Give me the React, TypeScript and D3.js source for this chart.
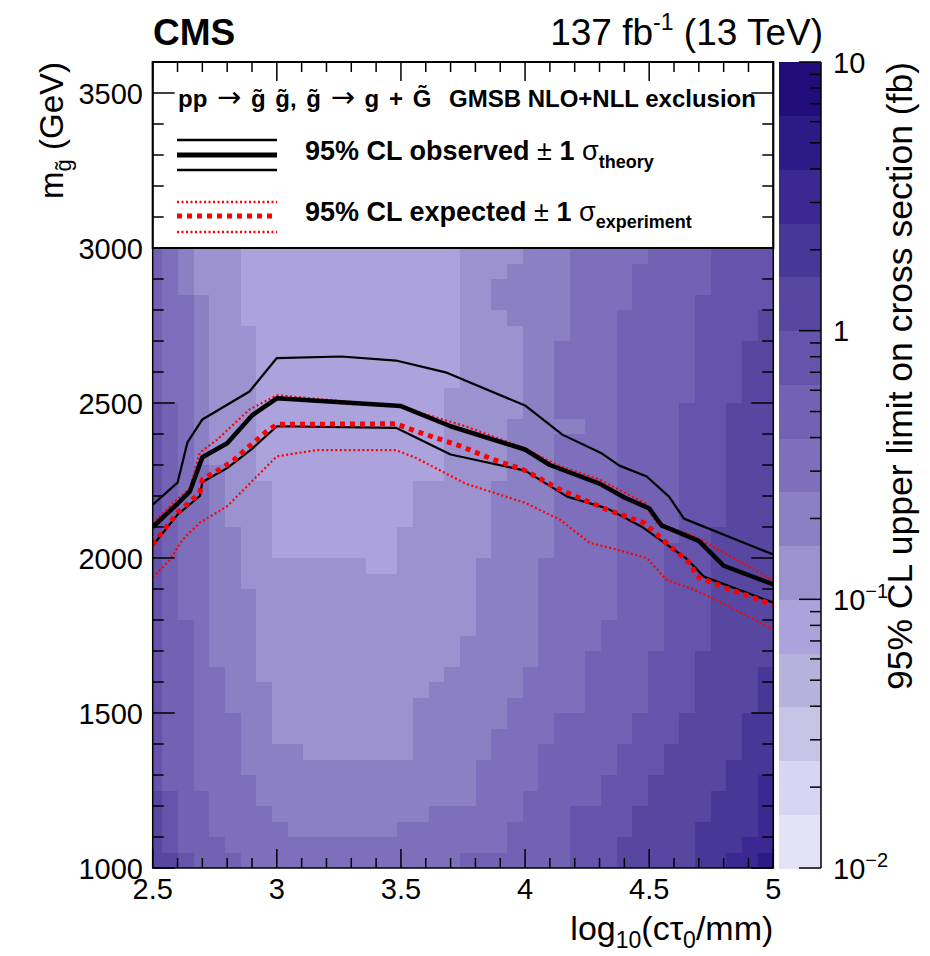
import React from "react";
import * as d3 from "d3";

const WIDTH = 930;
const HEIGHT = 956;
const FONT = "'Liberation Sans', Arial, Helvetica, sans-serif";

// ---- axes ----
const X_DOMAIN: [number, number] = [2.5, 5];
const Y_DOMAIN: [number, number] = [1000, 3600];
const Z_DOMAIN: [number, number] = [0.01, 10];
const xMajorTicks = [2.5, 3, 3.5, 4, 4.5, 5];
const xTickLabels = ["2.5", "3", "3.5", "4", "4.5", "5"];
const yMajorTicks = [1000, 1500, 2000, 2500, 3000, 3500];
const yTickLabels = ["1000", "1500", "2000", "2500", "3000", "3500"];
const zMajorTicks = [0.01, 0.1, 1, 10];
const zTickBase = ["10", "10", "1", "10"];
const zTickExp = ["\u22122", "\u22121", "", ""];

// ---- colour bands (15 bands, 5 per decade, lowest first) ----
const bandColors = [
  "#e4e3f6", "#d7d5f1", "#c6c3e6", "#b5b2dc", "#aca3dc",
  "#9d92d0", "#8c80c4", "#7d6fbb", "#7361b3", "#6653ab",
  "#5747a0", "#473897", "#3b2890", "#2c1a86", "#220e7a",
];

// ---- heat map: band index per cell, run-length coded, rows from 2950-3000 GeV down to 1000-1050 GeV ----
const heatMassLow = 1000;
const heatMassStep = 50;
const heatBinWidth = 0.0631;
const heatLevelRows = [
  "8 7 6 5*3 4*14 5*4 6*3 7*5 8*4 9*4",
  "8 7 6 5*3 4*14 5*3 6*4 7*4 8*5 9*4",
  "8 7 6 5*3 4*14 5*2 6*5 7*4 8*5 9*4",
  "8 7*2 6 5*2 4*14 5*2 6*5 7*4 8*4 9*5",
  "8 7*2 6 5*2 4*14 5*3 6*4 7*3 8*5 9*4 a",
  "8 7*2 6 5*3 4*13 5*4 6*3 7*3 8*5 9*4 a",
  "8 7*2 6 5*3 4*13 5*4 6*2 7*4 8*5 9*3 a*2",
  "8 7*2 6 5*3 4*13 5*4 6*2 7*4 8*5 9*3 a*2",
  "8 7*2 6 5*3 4*13 5*4 6*2 7*4 8*5 9*3 a*2",
  "8 7*2 6 5*3 4*12 5*5 6*2 7*4 8*5 9*3 a*2",
  "9 8 7 6 5*3 4*12 5*5 6*2 7*4 8*4 9*3 a*3",
  "9 8 7 6 5*3 4*12 5*4 6*5 7*2 8*4 9*3 a*3",
  "9 8 7 6 5*3 4*12 5*4 6*3 7*4 8*4 9*3 a*3",
  "9 8 7 6 5*3 4*12 5*4 6*3 7*4 8*4 9*3 a*3",
  "9 8 7*2 6 5*2 4*12 5*4 6*3 7*4 8*4 9*3 a*3",
  "9 8 7*2 6 5*3 4*9 5*5 6*4 7*4 8*4 9*3 a*3",
  "9 8 7*2 6 5*3 4*9 5*5 6*4 7*4 8*4 9*3 a*3",
  "9 8 7*2 6 5*3 4*9 5*5 6*4 7*4 8*4 9*3 a*3",
  "9 8 7*2 6*2 5*2 4*8 5*6 6*4 7*4 8*4 9*2 a*4",
  "9 8 7*2 6*2 5*2 4*8 5*6 6*4 7*4 8*3 9*3 a*4",
  "9 8 7*2 6*2 5*8 4*2 5*5 6*4 7*5 8*3 9*3 a*4",
  "9 8 7*2 6*2 5*15 6*4 7*5 8*3 9*3 a*4",
  "9 8 7*2 6*3 5*14 6*4 7*5 8*3 9*3 a*4",
  "9 8 7*2 6*3 5*14 6*4 7*5 8*3 9*3 a*4",
  "9 8*2 7 6*3 5*14 6*4 7*4 8*4 9*3 a*4",
  "9 8*2 7 6*3 5*13 6*5 7*4 8*4 9*3 a*4",
  "9 8*2 7 6*3 5*13 6*5 7*3 8*4 9*3 a*5",
  "9 8*2 7*2 6*2 5*12 6*5 7*4 8*4 9*3 a*4 b",
  "9 8*2 7*2 6*3 5*10 6*6 7*4 8*4 9*3 a*4 b",
  "9 8*2 7*2 6*3 5*9 6*6 7*5 8*4 9*3 a*4 b",
  "9 8*2 7*3 6*2 5*9 6*6 7*3 8*5 9*3 a*4 b*2",
  "9 8*2 7*3 6*2 5*9 6*5 7*4 8*5 9*3 a*4 b*2",
  "9 8*2 7*3 6*4 5*7 6*5 7*3 8*5 9*3 a*5 b*2",
  "9 8*2 7*3 6*15 7*4 8*5 9*3 a*4 b*3",
  "9 8*2 7*4 6*14 7*4 8*4 9*3 a*5 b*2 c",
  "a 9 8*2 7*3 6*14 7*3 8*5 9*3 a*4 b*3 c",
  "a 9 8*2 7*4 6*10 7*6 8*3 9*4 a*5 b*3 c",
  "a 9 8*2 7*5 6*7 7*7 8*4 9*4 a*4 b*4 c",
  "a 9 8*3 7*18 8*4 9*3 a*5 b*3 c*2",
  "a*2 9 8*3 7*14 8*7 9*3 a*5 b*2 c*2 d",
];

// ---- exclusion contours: [log10(c tau0/mm), gluino mass GeV] ----
const observed: [number, number][] = [
  [2.5, 2100], [2.6, 2175], [2.65, 2215], [2.7, 2325], [2.8, 2370], [2.9, 2460],
  [3.0, 2515], [3.5, 2490], [3.7, 2425], [4.0, 2350], [4.1, 2300], [4.3, 2240],
  [4.4, 2195], [4.5, 2160], [4.55, 2105], [4.7, 2055], [4.8, 1975], [5.0, 1915],
];
const observedPlus: [number, number][] = [
  [2.5, 2172], [2.6, 2243], [2.64, 2373], [2.7, 2447], [2.89, 2537], [3.0, 2645],
  [3.26, 2650], [3.48, 2637], [3.68, 2599], [4.0, 2492], [4.15, 2398], [4.31, 2337],
  [4.38, 2298], [4.49, 2263], [4.58, 2198], [4.64, 2127], [5.0, 2011],
];
const observedMinus: [number, number][] = [
  [2.5, 2040], [2.6, 2140], [2.69, 2200], [2.7, 2245], [2.8, 2290], [2.9, 2352],
  [3.0, 2425], [3.48, 2420], [3.7, 2334], [4.0, 2282], [4.17, 2198], [4.33, 2160],
  [4.47, 2101], [4.65, 1998], [4.72, 1940], [5.0, 1856],
];
const expected: [number, number][] = [
  [2.5, 2043], [2.6, 2146], [2.69, 2210], [2.7, 2253], [2.77, 2286], [2.83, 2318],
  [2.89, 2361], [2.96, 2409], [3.0, 2431], [3.48, 2433], [3.56, 2409], [3.74, 2361],
  [3.87, 2318], [3.99, 2286], [4.14, 2221], [4.33, 2156], [4.48, 2113], [4.54, 2070],
  [4.6, 2027], [4.67, 1979], [4.69, 1941], [4.81, 1903], [5.0, 1849],
];
const expectedPlus: [number, number][] = [
  [2.5, 2112], [2.6, 2190], [2.65, 2225], [2.69, 2340], [2.76, 2382], [2.89, 2479],
  [3.0, 2525], [3.48, 2490], [3.6, 2463], [3.76, 2425], [3.99, 2356], [4.14, 2296],
  [4.3, 2253], [4.48, 2178], [4.53, 2113], [4.68, 2070], [4.83, 2005], [5.0, 1927],
];
const expectedMinus: [number, number][] = [
  [2.5, 1937], [2.57, 1995], [2.62, 2059], [2.69, 2114], [2.8, 2167], [3.0, 2328],
  [3.16, 2348], [3.48, 2348], [3.56, 2323], [3.76, 2240], [4.0, 2178], [4.14, 2124],
  [4.26, 2049], [4.37, 2027], [4.49, 2000], [4.57, 1930], [4.68, 1898], [4.81, 1849],
  [5.0, 1769],
];

const PLOT = { left: 152.7, right: 773.3, top: 62, bottom: 868 };
const CBAR = { left: 779, right: 821 };
const ARROW_FONT = "'DejaVu Sans', sans-serif";

function decodeRow(row: string): number[] {
  const out: number[] = [];
  row.split(" ").forEach((tok) => {
    const [lv, n] = tok.split("*");
    const count = n ? parseInt(n, 10) : 1;
    for (let i = 0; i < count; i++) out.push(parseInt(lv, 16));
  });
  return out;
}

export default function App() {
  const x = d3.scaleLinear().domain(X_DOMAIN).range([PLOT.left, PLOT.right]);
  const y = d3.scaleLinear().domain(Y_DOMAIN).range([PLOT.bottom, PLOT.top]);
  const z = d3.scaleLog().domain(Z_DOMAIN).range([PLOT.bottom, PLOT.top]);
  const bandEdges = d3.range(bandColors.length + 1).map((k) => Math.pow(10, -2 + (3 * k) / bandColors.length));
  const color = d3.scaleThreshold<number, string>().domain(bandEdges.slice(1, bandColors.length)).range(bandColors);

  const nRows = heatLevelRows.length;
  const cells: { x0: number; x1: number; y0: number; y1: number; v: number }[] = [];
  heatLevelRows.forEach((row, i) => {
    const levels = decodeRow(row);
    const n = levels.length;
    const r = nRows - 1 - i;
    const m0 = heatMassLow + heatMassStep * r;
    const m1 = m0 + heatMassStep;
    levels.forEach((lv, c) => {
      const x0 = c === 0 ? X_DOMAIN[0] : X_DOMAIN[1] - heatBinWidth * (n - c);
      const x1 = X_DOMAIN[1] - heatBinWidth * (n - 1 - c);
      const v = Math.sqrt(bandEdges[lv] * bandEdges[lv + 1]);
      cells.push({ x0, x1, y0: m0, y1: m1, v });
    });
  });

  const line = d3
    .line<[number, number]>()
    .x((d) => x(d[0]))
    .y((d) => y(d[1]));

  const xMinor = d3.range(25, 51, 1).map((k) => k / 10);
  const yMinor = d3.range(1000, 3601, 100);
  const zMinor: number[] = [];
  [-2, -1, 0].forEach((d) => {
    for (let m = 2; m <= 9; m++) zMinor.push(m * Math.pow(10, d));
  });

  const legendBottom = y(3000);
  const tickLen = { yMaj: 22, yMin: 11, xMaj: 19, xMin: 10 };

  return (
    <svg
      width={WIDTH}
      height={HEIGHT}
      viewBox={`0 0 ${WIDTH} ${HEIGHT}`}
      style={{ position: "absolute", left: 0, top: 0, background: "#fff" }}
      fontFamily={FONT}
    >
      <defs>
        <clipPath id="plotClip">
          <rect x={PLOT.left} y={PLOT.top} width={PLOT.right - PLOT.left} height={PLOT.bottom - PLOT.top} />
        </clipPath>
      </defs>
      <rect x={0} y={0} width={WIDTH} height={HEIGHT} fill="#fff" />

      {/* heat map */}
      <g clipPath="url(#plotClip)" shapeRendering="crispEdges">
        {cells.map((c, i) => (
          <rect
            key={i}
            x={x(c.x0)}
            y={y(c.y1)}
            width={x(c.x1) - x(c.x0) + 0.6}
            height={y(c.y0) - y(c.y1) + 0.6}
            fill={color(c.v)}
          />
        ))}
      </g>

      {/* contours */}
      <g clipPath="url(#plotClip)" fill="none" strokeLinejoin="round">
        <path d={line(expectedMinus) || ""} stroke="#ff0000" strokeWidth={2.2} strokeDasharray="2 2.5" />
        <path d={line(expectedPlus) || ""} stroke="#ff0000" strokeWidth={2.2} strokeDasharray="2 2.5" />
        <path d={line(observedPlus) || ""} stroke="#000" strokeWidth={2.2} />
        <path d={line(observedMinus) || ""} stroke="#000" strokeWidth={2.2} />
        <path d={line(observed) || ""} stroke="#000" strokeWidth={4.5} />
        <path d={line(expected) || ""} stroke="#ff0000" strokeWidth={5} strokeDasharray="5 5" />
      </g>

      {/* legend */}
      <rect
        x={PLOT.left}
        y={PLOT.top}
        width={PLOT.right - PLOT.left}
        height={legendBottom - PLOT.top}
        fill="#fff"
        stroke="#000"
        strokeWidth={2}
      />
      <text x={178} y={107} fontSize={24} fontWeight="bold" style={{ whiteSpace: "pre" }} wordSpacing={3}>
        {"pp "}
        <tspan fontWeight="normal" fontFamily={ARROW_FONT} fontSize={29}>{"\u2192"}</tspan>
        {" g\u0303 g\u0303, g\u0303 "}
        <tspan fontWeight="normal" fontFamily={ARROW_FONT} fontSize={29}>{"\u2192"}</tspan>
        {" g + G\u0303"}
      </text>
      <text x={449} y={107} fontSize={24} fontWeight="bold">
        GMSB NLO+NLL exclusion
      </text>
      <line x1={177} x2={277} y1={140} y2={140} stroke="#000" strokeWidth={2.5} />
      <line x1={177} x2={277} y1={155} y2={155} stroke="#000" strokeWidth={5} />
      <line x1={177} x2={277} y1={170} y2={170} stroke="#000" strokeWidth={2.5} />
      <line x1={177} x2={277} y1={202} y2={202} stroke="#ff0000" strokeWidth={2.5} strokeDasharray="2 2.5" />
      <line x1={177} x2={277} y1={216} y2={216} stroke="#ff0000" strokeWidth={5} strokeDasharray="5 5" />
      <line x1={177} x2={277} y1={232} y2={232} stroke="#ff0000" strokeWidth={2.5} strokeDasharray="2 2.5" />
      <text x={305} y={160} fontSize={27} fontWeight="bold" style={{ whiteSpace: "pre" }}>
        {"95% CL observed "}
        <tspan fontWeight="normal">{"\u00b1"}</tspan>
        {" 1 "}
        <tspan fontWeight="normal">{"\u03c3"}</tspan>
        <tspan fontSize={18} dy={8}>theory</tspan>
      </text>
      <text x={305} y={221} fontSize={27} fontWeight="bold" style={{ whiteSpace: "pre" }}>
        {"95% CL expected "}
        <tspan fontWeight="normal">{"\u00b1"}</tspan>
        {" 1 "}
        <tspan fontWeight="normal">{"\u03c3"}</tspan>
        <tspan fontSize={18} dy={7}>experiment</tspan>
      </text>

      {/* frame */}
      <rect
        x={PLOT.left}
        y={PLOT.top}
        width={PLOT.right - PLOT.left}
        height={PLOT.bottom - PLOT.top}
        fill="none"
        stroke="#000"
        strokeWidth={1.5}
      />

      {/* ticks */}
      <g stroke="#000" strokeWidth={1.5}>
        {yMinor.map((v) => {
          const major = v % 500 === 0;
          const L = major ? tickLen.yMaj : tickLen.yMin;
          const yy = y(v);
          if (yy < PLOT.top - 0.5) return null;
          return (
            <g key={"y" + v}>
              <line x1={PLOT.left} x2={PLOT.left + L} y1={yy} y2={yy} />
              <line x1={PLOT.right} x2={PLOT.right - L} y1={yy} y2={yy} />
            </g>
          );
        })}
        {xMinor.map((v) => {
          const major = Math.abs(v * 2 - Math.round(v * 2)) < 1e-6;
          const L = major ? tickLen.xMaj : tickLen.xMin;
          const xx = x(v);
          return (
            <g key={"x" + v}>
              <line x1={xx} x2={xx} y1={PLOT.bottom} y2={PLOT.bottom - L} />
              <line x1={xx} x2={xx} y1={PLOT.top} y2={PLOT.top + L} />
            </g>
          );
        })}
      </g>

      {/* tick labels */}
      <g fontSize={29} fill="#000">
        {yMajorTicks.map((v, i) => (
          <text key={"yl" + v} x={143} y={y(v) + 10.5} textAnchor="end">
            {yTickLabels[i]}
          </text>
        ))}
        {xMajorTicks.map((v, i) => (
          <text key={"xl" + v} x={x(v)} y={899} textAnchor="middle">
            {xTickLabels[i]}
          </text>
        ))}
      </g>

      {/* colour bar */}
      <g shapeRendering="crispEdges">
        {bandColors.map((c, k) => (
          <rect
            key={"cb" + k}
            x={CBAR.left}
            y={z(bandEdges[k + 1])}
            width={CBAR.right - CBAR.left}
            height={z(bandEdges[k]) - z(bandEdges[k + 1]) + 0.5}
            fill={c}
          />
        ))}
      </g>
      <g stroke="#000" strokeWidth={1.5}>
        <line x1={CBAR.right} x2={CBAR.right} y1={PLOT.top} y2={PLOT.bottom} />
        {zMajorTicks.map((v) => (
          <line key={"zM" + v} x1={CBAR.right} x2={CBAR.right - 22} y1={z(v)} y2={z(v)} />
        ))}
        {zMinor.map((v) => (
          <line key={"zm" + v} x1={CBAR.right} x2={CBAR.right - 11} y1={z(v)} y2={z(v)} />
        ))}
      </g>
      <g fontSize={29} fill="#000">
        {zMajorTicks.map((v, i) => (
          <text key={"zl" + v} x={833} y={z(v) + 10.5}>
            {zTickBase[i]}
            {zTickExp[i] ? (
              <tspan fontSize={20} dy={-12}>
                {zTickExp[i]}
              </tspan>
            ) : null}
          </text>
        ))}
      </g>

      {/* titles */}
      <text x={153} y={45} fontSize={37} fontWeight="bold">
        CMS
      </text>
      <text x={823} y={45} fontSize={37} textAnchor="end" style={{ whiteSpace: "pre" }}>
        {"137 fb"}
        <tspan fontSize={23} dy={-15}>
          -1
        </tspan>
        <tspan dy={15}>{" (13 TeV)"}</tspan>
      </text>
      <text transform={`translate(63, ${PLOT.top}) rotate(-90)`} textAnchor="end" fontSize={33} style={{ whiteSpace: "pre" }}>
        {"m"}
        <tspan fontSize={22} dy={8}>{"g\u0303"}</tspan>
        <tspan dy={-8}>{" (GeV)"}</tspan>
      </text>
      <text x={PLOT.right} y={940} textAnchor="end" fontSize={34}>
        {"log"}
        <tspan fontSize={23} dy={8}>10</tspan>
        <tspan dy={-8}>{"(c\u03c4"}</tspan>
        <tspan fontSize={23} dy={8}>0</tspan>
        <tspan dy={-8}>{"/mm)"}</tspan>
      </text>
      <text transform={`translate(912, ${PLOT.top}) rotate(-90)`} textAnchor="end" fontSize={35.5}>
        95% CL upper limit on cross section (fb)
      </text>
    </svg>
  );
}
